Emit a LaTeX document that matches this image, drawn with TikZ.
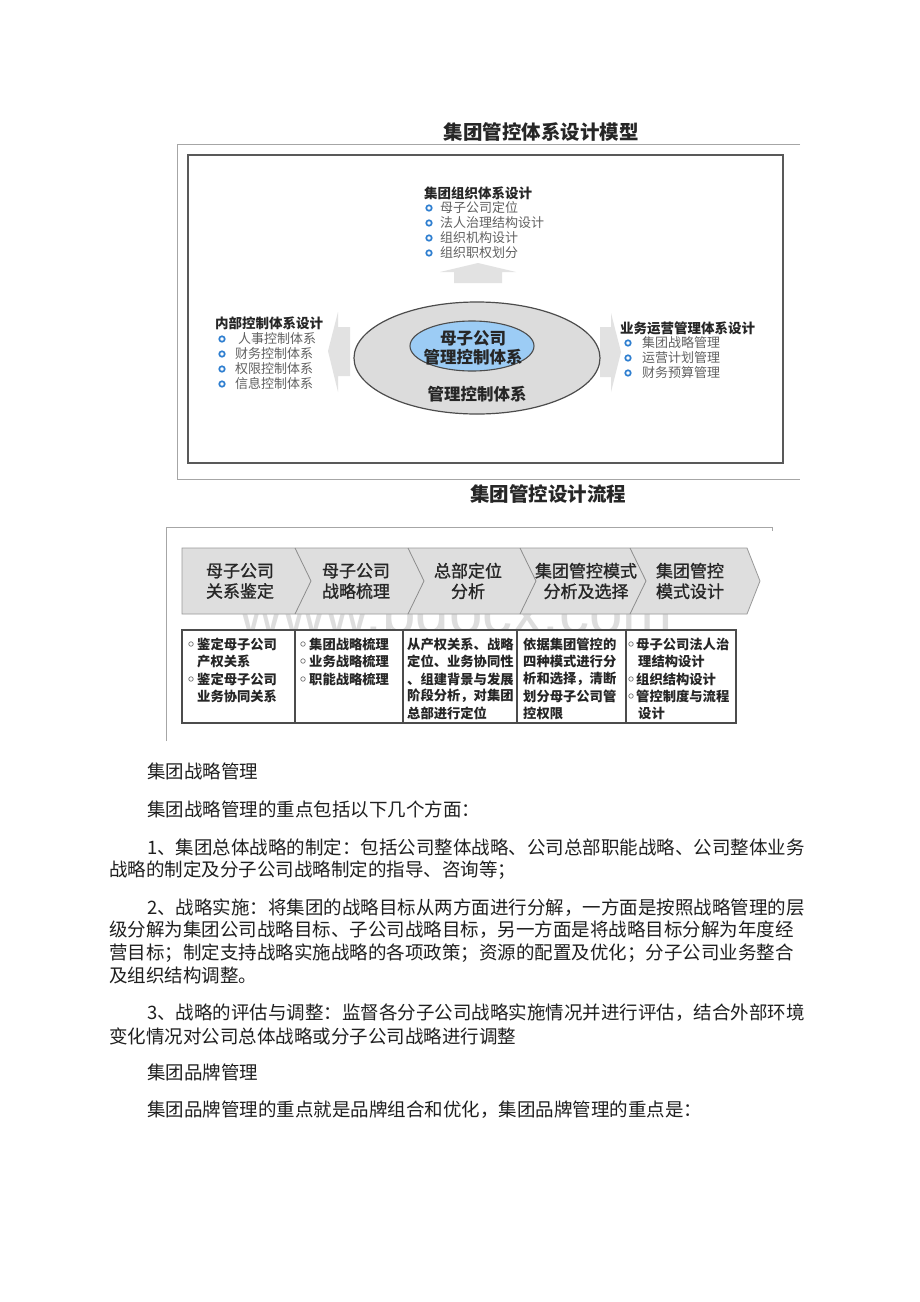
\documentclass[tikz,border=0pt]{standalone}
\usepackage{fontspec}
\setmainfont{Noto Sans CJK SC}
\newfontfamily\wmfont{Liberation Sans}
\newfontfamily\medcjk[FakeBold=1.2]{Noto Sans CJK SC}
\definecolor{bulblue}{HTML}{2F7FD0}
\definecolor{innerblue}{HTML}{9CCCF5}
\definecolor{ellgray}{HTML}{DCDCDC}
\definecolor{arrgray}{HTML}{E2E2E2}
\definecolor{chevgray}{HTML}{DEDEDE}
\definecolor{wmgray}{HTML}{DDDDDD}
\begin{document}
\begin{tikzpicture}[x=1pt,y=-1pt,
  body/.style={anchor=west,inner sep=0pt,font=\fontsize{18.5}{20}\selectfont,text=black!88},
  ttl/.style={inner sep=0pt,font=\fontsize{19.5}{22}\selectfont\bfseries,text=black!85},
  hd/.style={anchor=west,inner sep=0pt,font=\fontsize{13.5}{15}\selectfont\bfseries,text=black!85},
  itm/.style={anchor=west,inner sep=0pt,font=\fontsize{13}{15}\selectfont,text=black!62},
  bul/.style={circle,draw=bulblue,line width=1.7pt,fill=white,inner sep=0pt,minimum size=5.5pt},
  ctr/.style={inner sep=0pt,align=center,font=\fontsize{16.5}{19.5}\selectfont\bfseries,text=black!85},
  chevtxt/.style={inner sep=0pt,align=center,font=\medcjk\fontsize{17}{20.5}\selectfont,text=black!85},
  ctx/.style={anchor=west,inner sep=0pt,font=\fontsize{13.3}{15}\selectfont\bfseries,text=black!85},
  tbul/.style={circle,draw=black!55,line width=0.7pt,fill=white,inner sep=0pt,minimum size=4.5pt},
  frame/.style={draw=black!35,line width=1pt},
  blockarrow/.style={fill=arrgray,draw=none},
  cellbox/.style={draw=black!70,line width=1.1pt,fill=white}
]
\useasboundingbox (0,0) rectangle (920,1302);
\fill[white] (0,0) rectangle (920,1302);

% ===== Diagram 1 =====
\node[ttl] (t1) at (541,132) {集团管控体系设计模型};
\draw[frame] (800,144) -- (177,144) -- (177,479) -- (800,479);
\draw[draw=black!65,line width=1.5pt] (188,155) rectangle (783,463);

% block arrows
\fill[blockarrow] (478,263) -- (516,272) -- (502,272) -- (502,283) -- (454,283) -- (454,272) -- (440,272) -- cycle;
\fill[blockarrow] (328,351) -- (338,312) -- (338,327) -- (350,327) -- (350,376) -- (338,376) -- (338,392) -- cycle;
\fill[blockarrow] (621,352) -- (611,313) -- (611,327) -- (600,327) -- (600,377) -- (611,377) -- (611,392) -- cycle;

% ellipses
\draw[fill=ellgray,draw=black!70,line width=1.2pt] (477,358) ellipse [x radius=123,y radius=56];
\draw[fill=innerblue,draw=black!70,line width=1.1pt] (472,346) ellipse [x radius=62,y radius=25];
\node[ctr] (inner) at (473,348) {母子公司\\管理控制体系};
\node[ctr] (out1) at (477,394) {管理控制体系};

% top block
\node[hd] (th) at (424,193) {集团组织体系设计};
\node[bul] (tb1) at (429,208) {}; \node[itm] (ti1) at (440,208) {母子公司定位};
\node[bul] (tb2) at (429,223) {}; \node[itm] (ti2) at (440,223) {法人治理结构设计};
\node[bul] (tb3) at (429,238) {}; \node[itm] (ti3) at (440,238) {组织机构设计};
\node[bul] (tb4) at (429,253) {}; \node[itm] (ti4) at (440,253) {组织职权划分};

% left block
\node[hd] (lh) at (215,323) {内部控制体系设计};
\node[bul] (lb1) at (222,339) {}; \node[itm] (li1) at (238,339) {人事控制体系};
\node[bul] (lb2) at (222,354) {}; \node[itm] (li2) at (235,354) {财务控制体系};
\node[bul] (lb3) at (222,369) {}; \node[itm] (li3) at (235,369) {权限控制体系};
\node[bul] (lb4) at (222,384) {}; \node[itm] (li4) at (235,384) {信息控制体系};

% right block
\node[hd] (rh) at (620,328) {业务运营管理体系设计};
\node[bul] (rb1) at (628,343) {}; \node[itm] (ri1) at (642,343) {集团战略管理};
\node[bul] (rb2) at (628,358) {}; \node[itm] (ri2) at (642,358) {运营计划管理};
\node[bul] (rb3) at (628,373) {}; \node[itm] (ri3) at (642,373) {财务预算管理};

% ===== Diagram 2 =====
\node[ttl] (t2) at (548,494) {集团管控设计流程};
\draw[frame] (166,741) -- (166,527) -- (772,527) -- (772,531);

\node[inner sep=0pt,font=\wmfont\fontsize{60}{60}\selectfont,text=wmgray] (wmk) at (456,612) {www.bdocx.com};

\fill[chevgray] (182,548) -- (747,548) -- (760,581) -- (747,614) -- (182,614) -- cycle;
\draw[draw=black!40,line width=0.8pt] (182,548) -- (747,548) -- (760,581) -- (747,614) -- (182,614) -- cycle;
\foreach \bx in {295,408,520,630}
  \draw[draw=black!45,line width=0.8pt] (\bx,548) -- (\bx+16,581) -- (\bx,614);

\node[chevtxt] (c1) at (240,581) {母子公司\\关系鉴定};
\node[chevtxt] (c2) at (356,581) {母子公司\\战略梳理};
\node[chevtxt] (c3) at (468,581) {总部定位\\分析};
\node[chevtxt] (c4) at (586,581) {集团管控模式\\分析及选择};
\node[chevtxt] (c5) at (690,581) {集团管控\\模式设计};

% table
\draw[cellbox] (182,630) rectangle (295,723);
\draw[cellbox] (295,630) rectangle (403,723);
\draw[cellbox] (403,630) rectangle (517,723);
\draw[cellbox] (517,630) rectangle (626,723);
\draw[cellbox] (626,630) rectangle (736,723);

\node[tbul] (k1) at (191,644) {}; \node[ctx] (x11) at (197,644) {鉴定母子公司};
\node[ctx] (x12) at (197,661) {产权关系};
\node[tbul] (k2) at (191,679) {}; \node[ctx] (x13) at (197,679) {鉴定母子公司};
\node[ctx] (x14) at (197,696) {业务协同关系};

\node[tbul] (k3) at (303,644) {}; \node[ctx] (x21) at (309,644) {集团战略梳理};
\node[tbul] (k4) at (303,661) {}; \node[ctx] (x22) at (309,661) {业务战略梳理};
\node[tbul] (k5) at (303,679) {}; \node[ctx] (x23) at (309,679) {职能战略梳理};

\node[ctx] (x31) at (407,644) {从产权关系、战略};
\node[ctx] (x32) at (407,661) {定位、业务协同性};
\node[ctx] (x33) at (407,679) {、组建背景与发展};
\node[ctx] (x34) at (407,696) {阶段分析，对集团};
\node[ctx] (x35) at (407,713) {总部进行定位};

\node[ctx] (x41) at (523,644) {依据集团管控的};
\node[ctx] (x42) at (523,661) {四种模式进行分};
\node[ctx] (x43) at (523,679) {析和选择，清断};
\node[ctx] (x44) at (523,696) {划分母子公司管};
\node[ctx] (x45) at (523,713) {控权限};

\node[tbul] (k6) at (631,644) {}; \node[ctx] (x51) at (636,644) {母子公司法人治};
\node[ctx] (x52) at (638,661) {理结构设计};
\node[tbul] (k7) at (631,679) {}; \node[ctx] (x53) at (636,679) {组织结构设计};
\node[tbul] (k8) at (631,696) {}; \node[ctx] (x54) at (636,696) {管控制度与流程};
\node[ctx] (x55) at (638,713) {设计};

% ===== Body text =====
\node[body] (p0) at (147,771) {集团战略管理};
\node[body] (p1) at (147,809) {集团战略管理的重点包括以下几个方面：};
\node[body] (p2a) at (147,847) {1、集团总体战略的制定：包括公司整体战略、公司总部职能战略、公司整体业务};
\node[body] (p2b) at (109,870) {战略的制定及分子公司战略制定的指导、咨询等；};
\node[body] (p3a) at (147,908) {2、战略实施：将集团的战略目标从两方面进行分解，一方面是按照战略管理的层};
\node[body] (p3b) at (109,930) {级分解为集团公司战略目标、子公司战略目标，另一方面是将战略目标分解为年度经};
\node[body] (p3c) at (109,953) {营目标；制定支持战略实施战略的各项政策；资源的配置及优化；分子公司业务整合};
\node[body] (p3d) at (109,975) {及组织结构调整。};
\node[body] (p4a) at (147,1013) {3、战略的评估与调整：监督各分子公司战略实施情况并进行评估，结合外部环境};
\node[body] (p4b) at (109,1036) {变化情况对公司总体战略或分子公司战略进行调整};
\node[body] (p5) at (147,1072) {集团品牌管理};
\node[body] (p6) at (147,1110) {集团品牌管理的重点就是品牌组合和优化，集团品牌管理的重点是：};
\end{tikzpicture}
\end{document}
